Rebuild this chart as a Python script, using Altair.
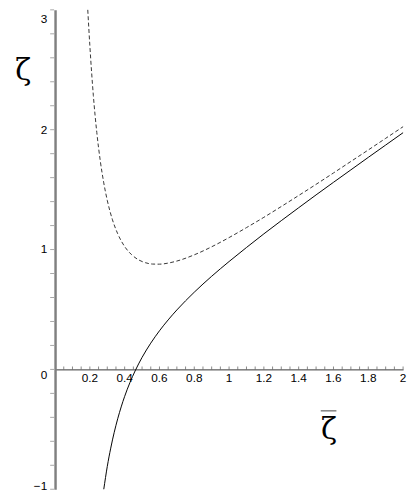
import altair as alt
import pandas as pd

# values
solid_x = [0.28, 0.30, 0.32, 0.34, 0.36, 0.38, 0.40, 0.43, 0.46, 0.50, 0.55, 0.60, 0.65, 0.70,
           0.80, 0.90, 1.00, 1.10, 1.20, 1.30, 1.40, 1.50, 1.60, 1.70, 1.80, 1.90, 2.00]
solid_y = [-1.0, -0.811, -0.657, -0.525, -0.412, -0.313, -0.225, -0.111, -0.013, 0.10, 0.219, 0.322,
           0.413, 0.496, 0.644, 0.777, 0.90, 1.017, 1.131, 1.241, 1.349, 1.456, 1.561, 1.665, 1.769,
           1.872, 1.975]

dashed_x = [0.188, 0.20, 0.22, 0.24, 0.26, 0.28, 0.30, 0.33, 0.36, 0.40, 0.44, 0.48, 0.52, 0.56,
            0.60, 0.65, 0.70, 0.80, 0.90, 1.00, 1.10, 1.20, 1.30, 1.40, 1.50, 1.60, 1.70, 1.80,
            1.90, 2.00]
dashed_y = [3.0, 2.70, 2.286, 1.976, 1.739, 1.556, 1.411, 1.248, 1.132, 1.025, 0.957, 0.914, 0.890,
            0.879, 0.878, 0.887, 0.904, 0.956, 1.023, 1.10, 1.183, 1.269, 1.359, 1.451, 1.544, 1.639,
            1.735, 1.831, 1.928, 2.025]

x_ticks = [round(i * 0.05, 2) for i in range(1, 41)]
y_ticks = [round(i * 0.2, 1) for i in range(-5, 16)]
x_label_vals = [0.2, 0.4, 0.6, 0.8, 1.0, 1.2, 1.4, 1.6, 1.8, 2.0]
x_label_text = ["0.2", "0.4", "0.6", "0.8", "1", "1.2", "1.4", "1.6", "1.8", "2"]
y_label_vals = [1, 2]
y_label_text = ["1", "2"]
y_zero_val, y_zero_text = [0], ["0"]
y_top_val, y_top_text = [3], ["3"]
y_bot_val, y_bot_text = [-1], ["\u22121"]

solid = pd.DataFrame({"x": solid_x, "y": solid_y})
dashed = pd.DataFrame({"x": dashed_x, "y": dashed_y})

W, H = 355, 489
xs = alt.Scale(domain=[0, 2], nice=False, zero=False)
ys = alt.Scale(domain=[-1, 3], nice=False, zero=False)
y0_px = H * 3 / 4  # pixel row of zeta = 0 inside the plot

LABEL_FONT = "Liberation Sans"

x_axis = alt.Axis(
    orient="top", offset=-y0_px, grid=False, labels=False, ticks=False,
    domainColor="#333", domainWidth=1,
    title="\u03b6", titleFont="DejaVu Serif", titleFontSize=30, titleFontWeight="normal",
    titleAngle=0, titleX=279, titleY=61, titleAlign="center", titleBaseline="middle",
    titleColor="#000",
)
y_axis = alt.Axis(
    grid=False, labels=False, ticks=False,
    domainColor="#808080", domainWidth=2.5,
    title="\u03b6", titleFont="DejaVu Serif", titleFontSize=30, titleFontWeight="normal",
    titleAngle=0, titleX=-33, titleY=62, titleAlign="center", titleBaseline="middle",
    titleColor="#000",
)

solid_line = alt.Chart(solid).mark_line(color="#000", strokeWidth=1, interpolate="monotone").encode(
    x=alt.X("x:Q", scale=xs, axis=x_axis),
    y=alt.Y("y:Q", scale=ys, axis=y_axis),
)
dashed_line = alt.Chart(dashed).mark_line(color="#333", strokeWidth=1, strokeDash=[4, 2.5],
                                          interpolate="monotone").encode(
    x=alt.X("x:Q", scale=xs),
    y=alt.Y("y:Q", scale=ys),
)

# tick marks: small upward ticks on the zeta = 0 line, left ticks on the vertical axis
x_tick_marks = alt.Chart(pd.DataFrame({"v": x_ticks})).mark_tick(
    orient="vertical", size=3, thickness=1, color="#555", yOffset=-1.5
).encode(x=alt.X("v:Q", scale=xs), y=alt.datum(0))
y_tick_marks = alt.Chart(pd.DataFrame({"v": y_ticks})).mark_tick(
    orient="horizontal", size=4, thickness=1, color="#808080", xOffset=-3
).encode(x=alt.datum(0), y=alt.Y("v:Q", scale=ys))

x_labels = alt.Chart(pd.DataFrame({"v": x_label_vals, "t": x_label_text})).mark_text(
    font=LABEL_FONT, fontSize=12, align="center", baseline="middle", dy=8.5, color="#000"
).encode(x=alt.X("v:Q", scale=xs), y=alt.datum(0), text="t:N")


def y_label_layer(vals, texts, baseline, dy):
    return alt.Chart(pd.DataFrame({"v": vals, "t": texts})).mark_text(
        font=LABEL_FONT, fontSize=12, align="right", baseline=baseline, dx=-8, dy=dy, color="#000"
    ).encode(x=alt.datum(0), y=alt.Y("v:Q", scale=ys), text="t:N")


y_labels = y_label_layer(y_label_vals, y_label_text, "middle", 0)
y_labels_zero = y_label_layer(y_zero_val, y_zero_text, "middle", 6)
y_labels_top = y_label_layer(y_top_val, y_top_text, "top", 4)
y_labels_bot = y_label_layer(y_bot_val, y_bot_text, "middle", -3)

# overline of the x title
bar = alt.Chart(pd.DataFrame({"a": [0]})).mark_rule(color="#808080", strokeWidth=1.5).encode(
    x=alt.value(271), x2=alt.value(287), y=alt.value(409)
)

chart = alt.layer(
    solid_line, dashed_line, x_tick_marks, y_tick_marks,
    x_labels, y_labels, y_labels_zero, y_labels_top, y_labels_bot, bar
).properties(
    width=W, height=H,
    autosize=alt.AutoSizeParams(type="none"),
    padding={"left": 48, "top": -3, "right": 4, "bottom": 2},
).configure_view(stroke=None)

chart.save("out.html", embed_options={"renderer": "svg", "actions": False})
